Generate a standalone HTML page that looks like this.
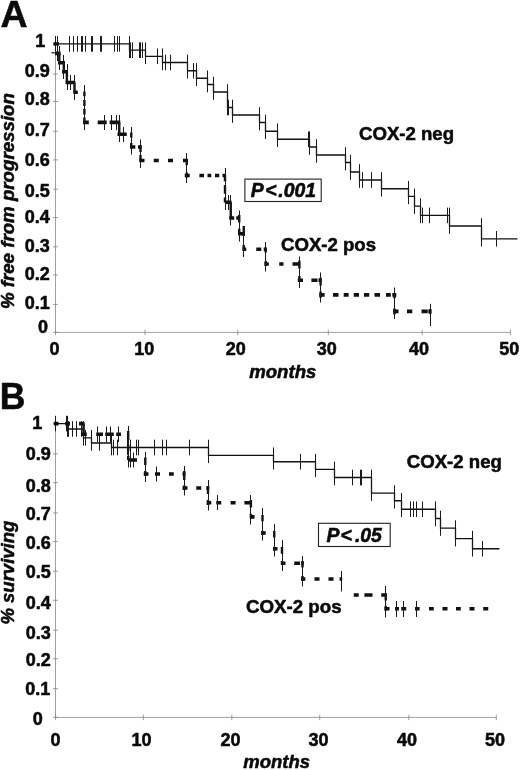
<!DOCTYPE html>
<html lang="en">
<head>
<meta charset="utf-8">
<title>Kaplan-Meier curves: COX-2 neg vs COX-2 pos</title>
<style>
html,body{margin:0;padding:0;background:#fff;}
body{width:520px;height:770px;overflow:hidden;}
svg{display:block;will-change:transform;transform:translateZ(0);}
</style>
</head>
<body>
<svg width="520" height="770" viewBox="0 0 520 770">
<rect x="0" y="0" width="520" height="770" fill="#fff"/>
<g stroke="#808080" stroke-width="0.75" fill="none">
<path d="M55.5 37 V332.4 H510.4"/>
<path d="M53 44h5M53 74h5M53 101.5h5M53 131.3h5M53 159.9h5M53 189.2h5M53 217.5h5M53 246.8h5M53 275h5M53 304.4h5M53 332.4h5M55.5 329.7v5.5M145 329.7v5.5M237.7 329.7v5.5M328.3 329.7v5.5M422.2 329.7v5.5M510.4 329.7v5.5"/>
</g>
<g stroke="#808080" stroke-width="0.75" fill="none">
<path d="M55.5 416 V717.4 H496.3"/>
<path d="M53 423.5h5M53 453.8h5M53 482.6h5M53 512.9h5M53 541.4h5M53 571.3h5M53 600.3h5M53 630.2h5M53 658.7h5M53 688.7h5M53 717.4h5M55.5 714.7v5.5M143.4 714.7v5.5M231.8 714.7v5.5M319.7 714.7v5.5M408.8 714.7v5.5M496.3 714.7v5.5"/>
</g>
<g stroke="#111" fill="none">
<path stroke-width="1.3" d="M55.5 43.9 H129.5 V50.2 H145.5 V56.3 H162.5 V62.5 H187.5 V70.75 H196.5 V78.25 H207.5 V84.5 H213.5 V92 H227.5 V107.5 H232.5 V115 H259.5 V122.5 H265.5 V131.25 H277.5 V139.25 H309.5 V147 H316.5 V155 H345.5 V162.5 H350.5 V172 H359.5 V180 H381.5 V188.75 H408.5 V196.4 H414.5 V206.1 H420.5 V215.4 H449.5 V226 H481.5 V238.8 H517.5"/>
<path stroke-width="1" stroke="#1a1a1a" d="M55.5 36.1V51.7M57.5 36.1V51.7M69.5 36.1V51.7M73.5 36.1V51.7M77.5 36.1V51.7M81.5 36.1V51.7M82.5 36.1V51.7M85.5 36.1V51.7M91.5 36.1V51.7M92.5 36.1V51.7M100.5 36.1V51.7M101.5 36.1V51.7M114.5 36.1V51.7M117.5 36.1V51.7M119.5 36.1V51.7M130.5 42.4V58M132.5 42.4V58M139.5 42.4V58M140.5 42.4V58M142.5 42.4V58M157.5 48.5V64.1M165.5 54.7V70.3M170.5 54.7V70.3M193.5 62.95V78.55M228.5 99.7V115.3M308.5 131.45V147.05M362.5 172.2V187.8M371.5 172.2V187.8M422.5 207.6V223.2M429.5 207.6V223.2M447.5 207.6V223.2M496.5 231V246.6M129.5 36.1V58M145.5 42.4V64.1M162.5 48.5V70.3M187.5 54.7V78.55M196.5 62.95V86.05M207.5 70.45V92.3M213.5 76.7V99.8M227.5 84.2V115.3M232.5 99.7V122.8M259.5 107.2V130.3M265.5 114.7V139.05M277.5 123.45V147.05M309.5 131.45V154.8M316.5 139.2V162.8M345.5 147.2V170.3M350.5 154.7V179.8M359.5 164.2V187.8M381.5 172.2V196.55M408.5 180.95V204.2M414.5 188.6V213.9M420.5 198.3V223.2M449.5 207.6V233.8M481.5 218.2V246.6"/>
</g>
<path d="M53.4 43.9H59" stroke="#111" stroke-width="3.4"/>
<path d="M51.3 52.8H55.5" stroke="#111" stroke-width="1.1"/>
<g stroke="#111" fill="none">
<path stroke-width="3.6" d="M55 53.4H60.6M58 62.7H65M62 71.8H67.9M65.6 82.5H75.2M73.3 92.3H77.8M83.2 122.4H88.8M97.7 122.4H106.7M109.6 122.4H120.3M117.5 134.25H126.75M130 147H135.3M138 147H141.6M139.25 160.5H144.5M153.75 160.5H158.75M168 160.5H173M183 160.5H188M184.75 175.5H189.75M199.4 175.5H204M207.5 175.5H211.25M215 175.5H219.25M222.5 175.5H225.5M225.3 202.3H231.5M229.25 218H234.2M236.25 218H239.5M238 233.8H244.5M242.5 249.25H246.25M256.25 249.25H261.25M263.75 249.25H266.25M264.5 264H268.75M279.25 264H283.5M292.5 264H300M297.8 280.2H303M311.4 280.2H317.5M318.5 280.2H321.5M319.4 294.9H324.6M333 294.9H338.5M343.7 294.9H348.6M353.8 294.9H359M364 294.9H369.2M374.5 294.9H380M386 294.9H390.8M392.3 294.9H396.3M393.2 311.4H398.5M407 311.4H412.3M421.5 311.4H427.7M428.3 311.4H431.4"/>
<path stroke-width="2.4" d="M59.3 53.4V62.7M63.8 62.7V71.8M66.9 71.8V82.5M74.5 82.5V92.3M84.4 91.5V96.3M84.4 100V106M84.4 108.8V114.6M84.4 117.5V124M119.25 122.4V134.25M131.25 132.5V137.5M131.25 143V147M140.5 145V152M140.5 155V160.5M186.75 159.5V165M186.75 172.5V177.5M225 175V181.25M225 185V193.75M225 197.5V202.5M230.75 202.3V218M239.25 215V222.5M239.25 228.75V235M243.75 226V236M243.75 245V251M265.75 247.5V252.5M265.75 261V266M299.4 260.8V268.5M299.4 276V282M320.6 277.7V285.4M320.6 291.5V297.7M394.5 293V298.3M394.5 308.5V314.6M430.2 309V314"/>
<path stroke-width="1" stroke="#1a1a1a" d="M57.5 46V61M59.5 46V70M63.5 55V79M67.5 64V90M70.5 75V90M74.5 75V100M84.5 85V130M104.5 115V130M111.5 115V130M116.5 115V130M119.5 115V142M123.5 127V142M131.5 127V154.5M140.5 139.5V168M186.5 153V183M225.5 168V210M228.5 195V210M230.5 195V225.5M239.5 210.5V241.5M243.5 226.5V257M265.5 242V271.5M299.5 256.5V288M320.5 272.5V302.5M394.5 287.5V319M430.5 303.8V326"/>
</g>
<g stroke="#111" fill="none">
<path stroke-width="1.3" d="M55.5 423.6 H67.5 V429 H83.5 V437.8 H91.5 V443 H111.5 V447.5 H208.5 V455.3 H273.5 V461.75 H315.5 V469.4 H334.5 V477.5 H371.5 V493.1 H394.5 V500.75 H401.5 V509.25 H435.5 V518.5 H440.5 V528.1 H455.5 V538.6 H472.5 V548.75 H499.5"/>
<path stroke-width="1" stroke="#1a1a1a" d="M55.5 415.8V431.4M66.5 415.8V431.4M68.5 421.2V436.8M72.5 421.2V436.8M76.5 421.2V436.8M81.5 421.2V436.8M85.5 430V445.6M99.5 435.2V450.8M113.5 439.7V455.3M117.5 439.7V455.3M127.5 439.7V455.3M130.5 439.7V455.3M136.5 439.7V455.3M138.5 439.7V455.3M154.5 439.7V455.3M162.5 439.7V455.3M166.5 439.7V455.3M189.5 439.7V455.3M300.5 453.95V469.55M352.5 469.7V485.3M360.5 469.7V485.3M361.5 469.7V485.3M410.5 501.45V517.05M413.5 501.45V517.05M416.5 501.45V517.05M422.5 501.45V517.05M482.5 540.95V556.55M67.5 415.8V436.8M83.5 421.2V445.6M91.5 430V450.8M111.5 435.2V455.3M208.5 439.7V463.1M273.5 447.5V469.55M315.5 453.95V477.2M334.5 461.6V485.3M371.5 469.7V500.9M394.5 485.3V508.55M401.5 492.95V517.05M435.5 501.45V526.3M440.5 510.7V535.9M455.5 520.3V546.4M472.5 530.8V556.55"/>
</g>
<g stroke="#111" fill="none">
<path stroke-width="3.6" d="M53.8 423.6H58.5M65.2 423.6H70M79 423.6H84.5M81.8 434.3H86.8M96.2 434.3H103M105.2 434.3H113.8M116.2 434.3H121M128.75 460H137M143.75 474H148.5M155 474H160M169 474H173.75M182.5 474H185.5M182.5 488H187.5M196.25 488H201.25M206.25 488H209.25M206.75 502.7H211.25M216.25 502.7H221.25M230.6 502.7H235.6M244.4 502.7H251.25M250 516.9H254.5M261.25 533H265.75M273 548.75H277.5M281.25 563.25H285.5M294.25 563.25H300M301.25 563.25H303.75M301.25 579H305.3M314.5 579H319.5M328.5 579H333.5M339.6 579H342.2M353.75 595H358.75M364.4 595H372.5M381.25 595H386.25M384.5 608.75H389.5M395 608.75H399M401.25 608.75H406.25M415 608.75H419.6M429 608.75H433.75M442.5 608.75H447.5M456 608.75H460.75M469.5 608.75H474.5M483.25 608.75H488.25"/>
<path stroke-width="2.4" d="M83.6 423.6V434.3M128.2 431V440M128.2 445V451M128.2 456V460M145.3 457.5V465M145.3 471V476M184.25 471V480M184.25 485.5V490M208 486V494M208 500V505M250.9 500V507.5M250.9 513.75V518.75M262.5 515V521.25M262.5 531V535M274.25 531V537.5M274.25 547V550.75M282 547V553.75M282 561V565M302.5 561V567.5M302.5 576V581M385.75 593.3V600.5M385.75 606V610.5"/>
<path stroke-width="1" stroke="#1a1a1a" d="M97.5 426.5V442M106.5 426.5V442M110.5 426.5V442M118.5 426.5V442M128.5 426V467.5M130.5 452.5V467.5M133.5 452.5V467.5M145.5 452V482M156.5 466.5V481.5M184.5 466V495.5M208.5 480V510.5M217.5 495V510M250.5 495V524.5M262.5 508V540.5M274.5 524V556.5M282.5 540V571M302.5 556V586.5M341.5 571V591.5M385.5 586V617.5M396.5 601V617M403.5 601V617M416.5 601V617"/>
</g>
<g font-family='"Liberation Sans", Arial, Helvetica, sans-serif' font-weight="bold" fill="#0a0a0a" stroke="#0a0a0a" stroke-width="0.55" stroke-linejoin="round">
<text x="0.5" y="27.2" font-size="37.5">A</text>
<text transform="translate(-0.2 409.3) scale(0.97 1)" font-size="36.6">B</text>
<text x="45.2" y="47.3" font-size="18" text-anchor="end">1</text>
<text x="49.7" y="77.4" font-size="18" text-anchor="end">0.9</text>
<text x="49.7" y="104.9" font-size="18" text-anchor="end">0.8</text>
<text x="49.7" y="136" font-size="18" text-anchor="end">0.7</text>
<text x="49.7" y="166.4" font-size="18" text-anchor="end">0.6</text>
<text x="49.7" y="196.5" font-size="18" text-anchor="end">0.5</text>
<text x="49.7" y="223.3" font-size="18" text-anchor="end">0.4</text>
<text x="49.7" y="251.5" font-size="18" text-anchor="end">0.3</text>
<text x="49.7" y="280.3" font-size="18" text-anchor="end">0.2</text>
<text x="49.7" y="309.1" font-size="18" text-anchor="end">0.1</text>
<text x="48" y="332.5" font-size="18" text-anchor="end">0</text>
<text x="42.2" y="428.6" font-size="18" text-anchor="end">1</text>
<text x="50.8" y="459.6" font-size="18" text-anchor="end">0.9</text>
<text x="50.8" y="491.5" font-size="18" text-anchor="end">0.8</text>
<text x="50.8" y="519.6" font-size="18" text-anchor="end">0.7</text>
<text x="50.8" y="548.7" font-size="18" text-anchor="end">0.6</text>
<text x="50.8" y="577.5" font-size="18" text-anchor="end">0.5</text>
<text x="50.8" y="608.8" font-size="18" text-anchor="end">0.4</text>
<text x="50.8" y="638.9" font-size="18" text-anchor="end">0.3</text>
<text x="50.8" y="665.7" font-size="18" text-anchor="end">0.2</text>
<text x="50.4" y="695.4" font-size="18" text-anchor="end">0.1</text>
<text x="42.8" y="724.5" font-size="18" text-anchor="end">0</text>
<text x="54.6" y="354.9" font-size="18" text-anchor="middle">0</text>
<text x="144.3" y="354.9" font-size="18" text-anchor="middle">10</text>
<text x="235.8" y="354.9" font-size="18" text-anchor="middle">20</text>
<text x="326.7" y="354.9" font-size="18" text-anchor="middle">30</text>
<text x="419" y="354.6" font-size="18" text-anchor="middle">40</text>
<text x="509.3" y="354.6" font-size="18" text-anchor="middle">50</text>
<text x="55.4" y="745.9" font-size="18" text-anchor="middle">0</text>
<text x="141.5" y="745.9" font-size="18" text-anchor="middle">10</text>
<text x="230.4" y="745.9" font-size="18" text-anchor="middle">20</text>
<text x="318.6" y="745.9" font-size="18" text-anchor="middle">30</text>
<text x="407" y="745.9" font-size="18" text-anchor="middle">40</text>
<text x="495.1" y="745.9" font-size="18" text-anchor="middle">50</text>
<text x="359" y="140.2" font-size="18.6">COX-2 neg</text>
<text x="281" y="251.4" font-size="18.6">COX-2 pos</text>
<text x="406.8" y="468.2" font-size="18.6">COX-2 neg</text>
<text x="246" y="613.4" font-size="18.7">COX-2 pos</text>
<g font-style="italic">
<text x="249.2" y="378.2" font-size="18.6">months</text>
<text x="243.3" y="767.5" font-size="18.5">months</text>
<text transform="translate(13.9 309.1) rotate(-90) scale(1.05 1)" font-size="17.8">% free from progression</text>
<text transform="translate(13.9 624.6) rotate(-90) scale(1.042 1)" font-size="17.8">% surviving</text>
<text y="197.3" font-size="19.4"><tspan x="250.8">P</tspan><tspan x="265.3">&lt;</tspan><tspan x="278.3">.001</tspan></text>
<text y="542" font-size="19.4"><tspan x="326.5">P</tspan><tspan x="340.5">&lt;</tspan><tspan x="354.9">.05</tspan></text>
</g>
</g>
<rect x="244.9" y="179.1" width="76.3" height="22.4" fill="none" stroke="#222" stroke-width="1.1"/>
<rect x="318.5" y="523.3" width="71.7" height="23.2" fill="none" stroke="#222" stroke-width="1.1"/>
</svg>
</body>
</html>
